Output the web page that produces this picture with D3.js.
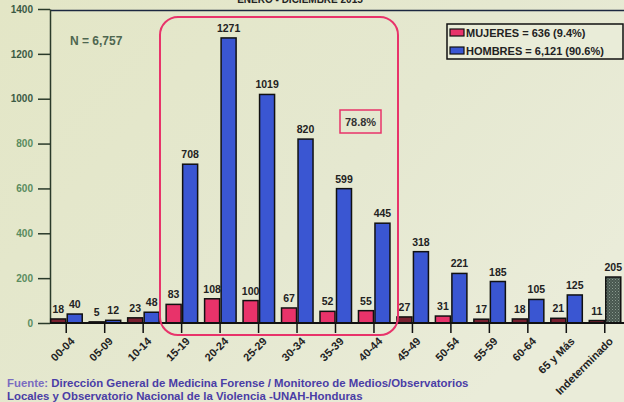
<!DOCTYPE html>
<html><head><meta charset="utf-8">
<script src="https://cdn.jsdelivr.net/npm/d3@7"></script>
<style>html,body{margin:0;padding:0;overflow:hidden;background:#e6e8cf;}</style>
</head><body>
<svg id="c" width="624" height="402"></svg>
<script>
const categories = ["00-04","05-09","10-14","15-19","20-24","25-29","30-34","35-39","40-44","45-49","50-54","55-59","60-64","65 y Más","Indeterminado"];
const mujeres = [18,5,23,83,108,100,67,52,55,27,31,17,18,21,11];
const hombres = [40,12,48,708,1271,1019,820,599,445,318,221,185,105,125,null];
const indeterminado = [null,null,null,null,null,null,null,null,null,null,null,null,null,null,205];
const yTicks = [0,200,400,600,800,1000,1200,1400];
const legendLabels = ["MUJERES = 636 (9.4%)","HOMBRES = 6,121 (90.6%)"];

const svg = d3.select("#c");
const defs = svg.append("defs");
const bg = defs.append("linearGradient").attr("id","bg").attr("x1","0").attr("y1","0").attr("x2","1").attr("y2","0.6");
bg.append("stop").attr("offset","0").attr("stop-color","#e3e6c6");
bg.append("stop").attr("offset","0.6").attr("stop-color","#e5e8d0");
bg.append("stop").attr("offset","1").attr("stop-color","#eaecd9");
const pat = defs.append("pattern").attr("id","hatch").attr("width",3).attr("height",3).attr("patternUnits","userSpaceOnUse");
pat.append("rect").attr("width",3).attr("height",3).attr("fill","#48574f");
pat.append("rect").attr("width",1).attr("height",1).attr("fill","#8a9a90");
pat.append("rect").attr("x",1.5).attr("y",1.5).attr("width",1).attr("height",1).attr("fill","#6f8077");

svg.append("rect").attr("width",624).attr("height",402).attr("fill","url(#bg)");

const x = d3.scaleBand().domain(categories).range([47,624]);
const y = d3.scaleLinear().domain([0,1400]).range([323,9]);
const font = "'Liberation Sans', Arial, sans-serif";

// title (clipped at top, as in the reference)
svg.append("text").attr("x",300).attr("y",3).attr("text-anchor","middle")
  .attr("font-family",font).attr("font-weight","bold").attr("font-size",10).attr("fill","#222")
  .text("ENERO - DICIEMBRE 2015");

// top line
svg.append("line").attr("x1",50).attr("x2",624).attr("y1",10.5).attr("y2",10.5).attr("stroke","#1c2840").attr("stroke-width",1.5);

// y axis
const yAxis = svg.append("g").attr("transform","translate(50,0)")
  .call(d3.axisLeft(y).tickValues(yTicks).tickFormat(d3.format("d")).tickSize(12).tickPadding(5).tickSizeOuter(0));
yAxis.select(".domain").attr("stroke","#2a3a2a").attr("stroke-width",1.5);
yAxis.selectAll(".tick line").attr("stroke","#2a3a2a").attr("stroke-width",1.5);
yAxis.selectAll(".tick text").attr("font-family",font).attr("font-weight","bold").attr("font-size",10)
  .attr("fill",d=> d>=1000 ? "#3b5a44" : "#5a8c5e");

const bw = 15;
const cx = d => x(d) + x.bandwidth()/2;

// red bars
svg.selectAll(".m").data(categories).enter().append("rect")
  .attr("x",(d)=>cx(d)-bw-0.5).attr("width",bw)
  .attr("y",(d,i)=>y(mujeres[i])).attr("height",(d,i)=>y(0)-y(mujeres[i]))
  .attr("fill",(d,i)=> mujeres[i] < 30 && i!==1 ? "#7a2030" : "#e8336a")
  .attr("stroke","#111").attr("stroke-width",1.5);
svg.selectAll(".ml").data(categories).enter().append("text")
  .attr("x",d=>cx(d)-bw/2-0.5).attr("y",(d,i)=>y(mujeres[i])-6)
  .attr("text-anchor","middle").attr("font-family",font).attr("font-weight","bold").attr("font-size",10.5).attr("fill","#222")
  .text((d,i)=>mujeres[i]);

// blue bars
const hb = categories.map((c,i)=>({c,v:hombres[i]})).filter(d=>d.v!=null);
svg.selectAll(".h").data(hb).enter().append("rect")
  .attr("x",d=>cx(d.c)+1).attr("width",bw)
  .attr("y",d=>y(d.v)).attr("height",d=>y(0)-y(d.v))
  .attr("fill","#3a56d2").attr("stroke","#111").attr("stroke-width",1.5);
svg.selectAll(".hl").data(hb).enter().append("text")
  .attr("x",d=>cx(d.c)+1+bw/2).attr("y",d=>y(d.v)-6)
  .attr("text-anchor","middle").attr("font-family",font).attr("font-weight","bold").attr("font-size",10.5).attr("fill","#222")
  .text(d=>d.v);

// indeterminado
const ib = categories.map((c,i)=>({c,v:indeterminado[i]})).filter(d=>d.v!=null);
svg.selectAll(".ib").data(ib).enter().append("rect")
  .attr("x",d=>cx(d.c)+1).attr("width",bw)
  .attr("y",d=>y(d.v)).attr("height",d=>y(0)-y(d.v))
  .attr("fill","url(#hatch)").attr("stroke","#111").attr("stroke-width",1.5);
svg.selectAll(".il").data(ib).enter().append("text")
  .attr("x",d=>cx(d.c)+1+bw/2).attr("y",d=>y(d.v)-6)
  .attr("text-anchor","middle").attr("font-family",font).attr("font-weight","bold").attr("font-size",10.5).attr("fill","#222")
  .text(d=>d.v);

// x axis
const xAxis = svg.append("g").attr("transform","translate(0,323)")
  .call(d3.axisBottom(x).tickSize(10).tickSizeOuter(0));
xAxis.select(".domain").attr("stroke","#111").attr("stroke-width",2).attr("d","M50,0H624");
xAxis.selectAll(".tick line").attr("stroke","#111").attr("stroke-width",1.5);
xAxis.selectAll(".tick text").attr("font-family",font).attr("font-weight","bold").attr("font-size",11).attr("fill","#222")
  .attr("text-anchor","end").attr("dy",0).attr("y",0)
  .attr("transform","translate(9,19) rotate(-45)");

// pink rounded box
svg.append("rect").attr("x",160).attr("y",17).attr("width",238).attr("height",318).attr("rx",18)
  .attr("fill","none").attr("stroke","#e8336a").attr("stroke-width",2);

// 78.8% box
svg.append("rect").attr("x",340).attr("y",110).attr("width",41).attr("height",23)
  .attr("fill","none").attr("stroke","#e8336a").attr("stroke-width",1.5);
svg.append("text").attr("x",360.5).attr("y",126).attr("text-anchor","middle")
  .attr("font-family",font).attr("font-weight","bold").attr("font-size",11).attr("fill","#333").text("78.8%");

// N label
svg.append("text").attr("x",70).attr("y",45).attr("font-family",font).attr("font-weight","bold")
  .attr("font-size",12).attr("fill","#4e6650").text("N = 6,757");

// legend
svg.append("rect").attr("x",447).attr("y",24).attr("width",176).attr("height",35)
  .attr("fill","#e9ecd8").attr("stroke","#111").attr("stroke-width",1.5);
const lc = ["#e8336a","#3a56d2"];
legendLabels.forEach((t,i)=>{
  svg.append("rect").attr("x",450).attr("y",29+i*18).attr("width",14).attr("height",7)
    .attr("fill",lc[i]).attr("stroke","#111").attr("stroke-width",1.2);
  svg.append("text").attr("x",466).attr("y",37+i*18).attr("font-family",font).attr("font-weight","bold")
    .attr("font-size",11).attr("fill","#222").text(t);
});

// source
const src = svg.append("g").attr("font-family",font).attr("font-weight","bold").attr("font-size",11.4);
const t1 = src.append("text").attr("x",7).attr("y",387);
t1.append("tspan").attr("fill","#7a6cc0").text("Fuente: ");
t1.append("tspan").attr("fill","#4a3da6").text("Dirección General de Medicina Forense / Monitoreo de Medios/Observatorios");
src.append("text").attr("x",7).attr("y",400).attr("fill","#4a3da6")
  .text("Locales y Observatorio Nacional de la Violencia -UNAH-Honduras");
</script>
</body></html>
